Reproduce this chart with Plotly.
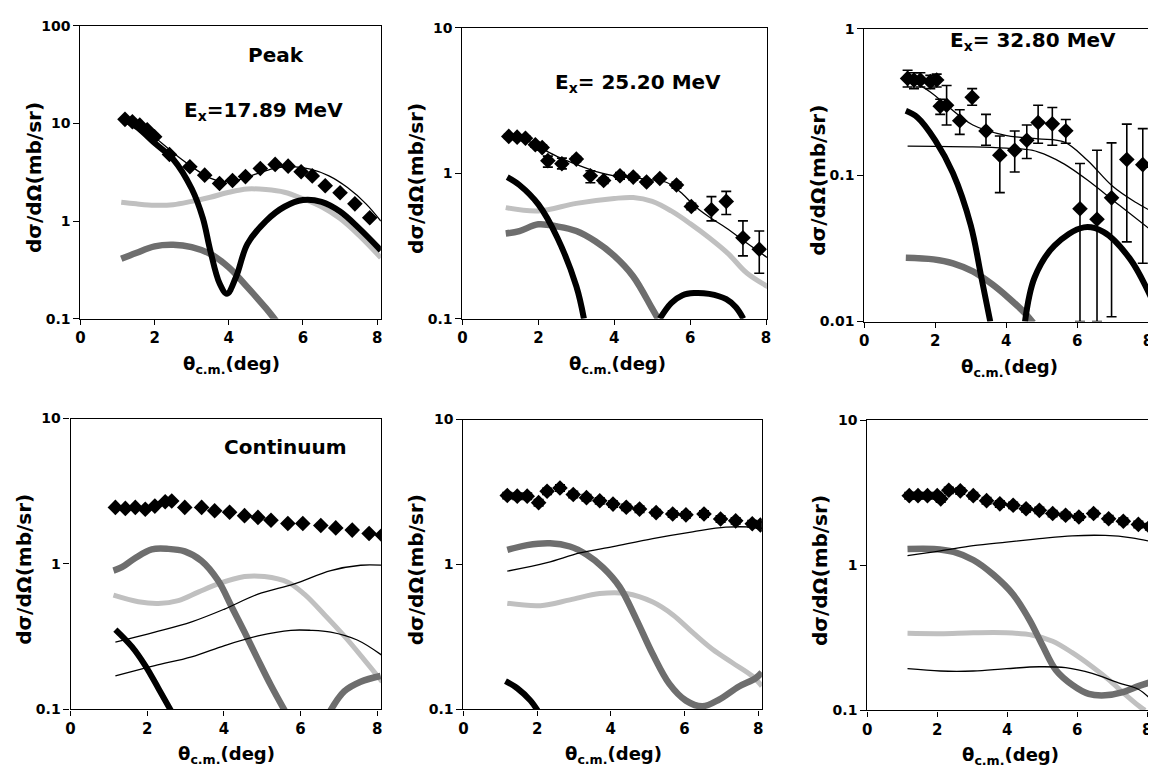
import plotly.graph_objects as go

W, H = 1156, 777

# ---------------- Panel 1 : Peak, Ex = 17.89 MeV ----------------
p1_dx = [1.2, 1.4, 1.6, 1.8, 2.0, 2.4, 2.95, 3.35, 3.75, 4.1, 4.45, 4.85, 5.25, 5.6, 5.95, 6.25, 6.6, 7.0, 7.4, 7.8]
p1_dy = [11.0, 10.4, 9.6, 8.6, 7.3, 4.8, 3.6, 2.95, 2.42, 2.6, 2.85, 3.45, 3.8, 3.65, 3.2, 2.9, 2.3, 1.95, 1.5, 1.08]
p1_tot_x = [1.1, 1.5, 2.0, 2.5, 3.0, 3.5, 3.8, 4.2, 4.7, 5.2, 5.7, 6.2, 6.7, 7.2, 7.7, 8.1]
p1_tot_y = [11.5, 9.8, 7.2, 5.0, 3.6, 2.75, 2.55, 2.6, 3.0, 3.45, 3.6, 3.4, 2.9, 2.2, 1.5, 1.0]
p1_blk_x = [1.1, 1.5, 2.0, 2.5, 3.0, 3.3, 3.5, 3.75, 3.95, 4.2, 4.5, 5.0, 5.5, 6.0, 6.5, 7.0, 7.5, 8.1]
p1_blk_y = [11.2, 9.3, 6.3, 4.3, 2.14, 1.07, 0.5, 0.23, 0.18, 0.27, 0.58, 1.0, 1.4, 1.64, 1.57, 1.25, 0.85, 0.5]
p1_lg_x = [1.1, 1.5, 2.0, 2.5, 3.0, 3.5, 4.0, 4.5, 5.0, 5.5, 6.0, 6.5, 7.0, 7.5, 8.1]
p1_lg_y = [1.56, 1.5, 1.45, 1.47, 1.59, 1.75, 1.97, 2.13, 2.1, 1.97, 1.69, 1.4, 1.06, 0.72, 0.42]
p1_dg_x = [1.1, 1.5, 2.0, 2.5, 3.0, 3.5, 4.0, 4.5, 5.0, 5.3]
p1_dg_y = [0.41, 0.47, 0.55, 0.57, 0.54, 0.46, 0.335, 0.21, 0.128, 0.092]

# ---------------- Panel 2 : Ex = 25.20 MeV ----------------
p2_dx = [1.22, 1.44, 1.66, 1.92, 2.1, 2.25, 2.62, 3.0, 3.37, 3.72, 4.15, 4.5, 4.85, 5.2, 5.64, 6.03, 6.56, 6.95, 7.39, 7.82]
p2_dy = [1.79, 1.77, 1.74, 1.57, 1.5, 1.22, 1.16, 1.25, 0.96, 0.89, 0.96, 0.94, 0.87, 0.92, 0.83, 0.59, 0.56, 0.64, 0.36, 0.30]
p2_dhi = [1.85, 1.83, 1.8, 1.63, 1.56, 1.31, 1.27, 1.3, 1.04, 0.93, 1.01, 0.98, 0.9, 0.95, 0.87, 0.62, 0.69, 0.75, 0.47, 0.40]
p2_dlo = [1.73, 1.71, 1.68, 1.51, 1.44, 1.1, 1.07, 1.2, 0.86, 0.85, 0.91, 0.9, 0.84, 0.89, 0.79, 0.56, 0.47, 0.52, 0.27, 0.205]
p2_tot_x = [1.2, 1.6, 2.0, 2.5, 3.0, 3.5, 4.0, 4.5, 5.0, 5.4, 5.8, 6.1, 6.5, 6.95, 7.5, 8.15]
p2_tot_y = [1.82, 1.72, 1.52, 1.3, 1.15, 1.03, 0.96, 0.93, 0.9, 0.86, 0.72, 0.6, 0.5, 0.42, 0.33, 0.25]
p2_blk1_x = [1.18, 1.5, 2.0, 2.5, 3.0, 3.2]
p2_blk1_y = [0.94, 0.83, 0.61, 0.36, 0.167, 0.1]
p2_blk2_x = [5.2, 5.5, 5.8, 6.1, 6.5, 6.95, 7.2, 7.4]
p2_blk2_y = [0.1, 0.128, 0.145, 0.15, 0.148, 0.136, 0.12, 0.1]
p2_lg_x = [1.14, 2.0, 3.0, 4.0, 4.5, 5.0, 5.5, 6.0, 6.5, 7.0, 7.5, 8.1]
p2_lg_y = [0.58, 0.55, 0.62, 0.67, 0.68, 0.64, 0.55, 0.45, 0.36, 0.28, 0.205, 0.163]
p2_dg_x = [1.14, 1.5, 2.0, 2.5, 3.0, 3.5, 4.0, 4.5, 5.0, 5.15]
p2_dg_y = [0.385, 0.40, 0.445, 0.43, 0.40, 0.34, 0.27, 0.195, 0.117, 0.1]

# ---------------- Panel 3 : Ex = 32.80 MeV ----------------
p3_dx = [1.22, 1.4, 1.58, 1.86, 2.04, 2.14, 2.32, 2.69, 3.04, 3.43, 3.82, 4.24, 4.58, 4.9, 5.3, 5.68, 6.08, 6.56, 6.97, 7.4, 7.85]
p3_dy = [0.458, 0.447, 0.447, 0.435, 0.447, 0.296, 0.30, 0.235, 0.34, 0.20, 0.137, 0.148, 0.173, 0.229, 0.224, 0.201, 0.059, 0.05, 0.07, 0.128, 0.118]
p3_dhi = [0.52, 0.5, 0.5, 0.48, 0.49, 0.33, 0.41, 0.28, 0.39, 0.26, 0.185, 0.2, 0.22, 0.30, 0.29, 0.24, 0.12, 0.148, 0.166, 0.223, 0.208]
p3_dlo = [0.40, 0.39, 0.40, 0.39, 0.40, 0.26, 0.22, 0.19, 0.30, 0.16, 0.076, 0.105, 0.13, 0.165, 0.16, 0.165, 0.01, 0.01, 0.0108, 0.035, 0.025]
p3_tot_x = [1.22, 1.86, 2.32, 3.06, 3.98, 4.9, 5.64, 6.28, 7.0, 7.66, 8.2]
p3_tot_y = [0.46, 0.37, 0.30, 0.22, 0.187, 0.177, 0.168, 0.127, 0.084, 0.065, 0.055]
p3_dir_x = [1.22, 2.0, 3.06, 4.0, 4.72, 5.2, 5.64, 6.28, 7.2, 8.2]
p3_dir_y = [0.158, 0.157, 0.156, 0.153, 0.148, 0.135, 0.119, 0.093, 0.062, 0.04]
p3_blk1_x = [1.17, 1.5, 2.0, 2.5, 3.0, 3.3, 3.55]
p3_blk1_y = [0.275, 0.248, 0.173, 0.103, 0.0455, 0.02, 0.01]
p3_blk2_x = [4.53, 4.8, 5.36, 6.19, 6.74, 7.48, 8.12]
p3_blk2_y = [0.01, 0.02, 0.033, 0.044, 0.041, 0.027, 0.014]
p3_dg_x = [1.17, 1.95, 2.5, 3.06, 3.6, 4.07, 4.53, 4.76]
p3_dg_y = [0.0273, 0.0266, 0.025, 0.022, 0.018, 0.0145, 0.0114, 0.0098]

# ---------------- Panel 4 : Continuum, Ex = 17.89 MeV ----------------
p4_dx = [1.17, 1.43, 1.69, 1.95, 2.2, 2.47, 2.64, 2.98, 3.42, 3.76, 4.15, 4.54, 4.89, 5.23, 5.67, 6.06, 6.53, 6.92, 7.35, 7.79, 8.13]
p4_dy = [2.45, 2.41, 2.45, 2.38, 2.5, 2.68, 2.71, 2.45, 2.45, 2.32, 2.27, 2.15, 2.09, 2.0, 1.9, 1.9, 1.84, 1.77, 1.71, 1.62, 1.58]
p4_blk_x = [1.17, 1.6, 1.95, 2.29, 2.7]
p4_blk_y = [0.354, 0.27, 0.2, 0.14, 0.09]
p4_dg1_x = [1.12, 1.34, 1.69, 2.12, 2.55, 2.98, 3.42, 3.85, 4.2, 4.54, 4.89, 5.23, 5.6]
p4_dg1_y = [0.9, 0.95, 1.1, 1.26, 1.27, 1.22, 1.05, 0.77, 0.51, 0.34, 0.22, 0.146, 0.097]
p4_dg2_x = [6.75, 7.14, 7.57, 8.09]
p4_dg2_y = [0.095, 0.133, 0.155, 0.17]
p4_lg_x = [1.12, 1.77, 2.29, 2.81, 3.33, 3.85, 4.54, 5.06, 5.67, 6.1, 6.62, 7.14, 7.66, 8.13]
p4_lg_y = [0.61, 0.55, 0.535, 0.56, 0.64, 0.73, 0.82, 0.82, 0.75, 0.62, 0.45, 0.32, 0.22, 0.155]
p4_t1_x = [1.17, 2.2, 3.16, 4.02, 4.89, 5.84, 6.79, 7.57, 8.13]
p4_t1_y = [0.29, 0.34, 0.40, 0.49, 0.62, 0.73, 0.9, 0.98, 0.98]
p4_t2_x = [1.17, 2.2, 3.16, 4.02, 4.89, 5.75, 6.27, 6.79, 7.48, 8.13]
p4_t2_y = [0.17, 0.2, 0.23, 0.275, 0.32, 0.35, 0.35, 0.34, 0.30, 0.235]

# ---------------- Panel 5 : Continuum, Ex = 25.20 MeV ----------------
p5_dx = [1.19, 1.46, 1.73, 2.04, 2.27, 2.62, 2.98, 3.34, 3.7, 4.06, 4.42, 4.78, 5.23, 5.68, 6.04, 6.53, 6.98, 7.39, 7.84, 8.06]
p5_dy = [2.99, 2.96, 2.96, 2.67, 3.2, 3.37, 3.04, 2.89, 2.75, 2.61, 2.48, 2.41, 2.28, 2.23, 2.2, 2.23, 2.06, 2.0, 1.91, 1.87]
p5_t_x = [1.19, 2.27, 3.16, 4.06, 5.14, 6.22, 7.12, 8.02]
p5_t_y = [0.90, 1.03, 1.2, 1.33, 1.51, 1.68, 1.81, 1.81]
p5_dg_x = [1.19, 1.73, 2.35, 2.89, 3.34, 3.79, 4.24, 4.69, 5.14, 5.59, 6.04, 6.49, 6.94, 7.48, 7.93, 8.1]
p5_dg_y = [1.26, 1.36, 1.4, 1.33, 1.17, 0.95, 0.70, 0.42, 0.24, 0.15, 0.115, 0.105, 0.117, 0.144, 0.164, 0.18]
p5_lg_x = [1.19, 2.09, 2.89, 3.7, 4.42, 5.14, 5.68, 6.22, 6.76, 7.3, 7.84, 8.1]
p5_lg_y = [0.54, 0.52, 0.57, 0.63, 0.63, 0.55, 0.45, 0.34, 0.26, 0.21, 0.17, 0.145]
p5_blk_x = [1.14, 1.46, 1.82, 2.05]
p5_blk_y = [0.157, 0.14, 0.115, 0.095]

# ---------------- Panel 6 : Continuum, Ex = 32.80 MeV ----------------
p6_dx = [1.2, 1.45, 1.72, 2.0, 2.1, 2.33, 2.66, 3.03, 3.41, 3.79, 4.17, 4.54, 4.92, 5.3, 5.67, 6.05, 6.47, 6.9, 7.32, 7.75, 8.08]
p6_dy = [3.03, 3.03, 3.03, 3.03, 2.88, 3.3, 3.27, 3.03, 2.8, 2.66, 2.6, 2.46, 2.4, 2.28, 2.22, 2.16, 2.28, 2.1, 2.02, 1.92, 1.85]
p6_t1_x = [1.15, 2.09, 3.03, 3.98, 4.92, 5.86, 6.8, 7.56, 8.17]
p6_t1_y = [1.17, 1.26, 1.37, 1.45, 1.53, 1.6, 1.61, 1.55, 1.45]
p6_t2_x = [1.15, 2.09, 3.03, 3.98, 4.92, 5.67, 6.43, 7.18, 7.75, 8.17]
p6_t2_y = [0.194, 0.187, 0.187, 0.194, 0.2, 0.197, 0.18, 0.155, 0.14, 0.115]
p6_dg_x = [1.15, 1.9, 2.47, 3.03, 3.6, 4.17, 4.64, 5.01, 5.39, 5.86, 6.33, 6.8, 7.28, 7.75, 8.12]
p6_dg_y = [1.3, 1.3, 1.24, 1.09, 0.865, 0.63, 0.42, 0.28, 0.19, 0.15, 0.13, 0.127, 0.133, 0.147, 0.157]
p6_lg_x = [1.15, 2.09, 3.03, 3.98, 4.73, 5.3, 5.86, 6.43, 6.9, 7.37, 7.75, 7.94]
p6_lg_y = [0.34, 0.338, 0.343, 0.343, 0.33, 0.30, 0.25, 0.20, 0.163, 0.129, 0.108, 0.1]

# tick labels
x_ticks = [0, 2, 4, 6, 8]
y_ticks_p1 = [0.1, 1, 10, 100]
y_ticks_p2 = [0.1, 1, 10]
y_ticks_p3 = [0.01, 0.1, 1]
y_ticks_bot = [0.1, 1, 10]

# ---------------- styling ----------------
FONT = "DejaVu Sans, Liberation Sans, Arial, sans-serif"
BLACK_THICK = dict(color="black", width=6, shape="spline")
THIN = dict(color="black", width=1.3, shape="spline")
LIGHT = dict(color="rgb(192,192,192)", width=5, shape="spline")
DARK = dict(color="rgb(110,110,110)", width=6.5, shape="spline")
MARK = dict(symbol="diamond", size=12, color="black")

# panel geometry in pixels: x of 0, x of 8, top y, bottom y, log range, x max
panels = [
    dict(x0=68, x8=367, yt=10, yb=309, yr=[-1, 2], yt_vals=y_ticks_p1, xm=8.1),
    dict(x0=453, x8=759, yt=12, yb=309, yr=[-1, 1], yt_vals=y_ticks_p2, xm=8.02),
    dict(x0=858, x8=1144, yt=13, yb=312, yr=[-2, 0], yt_vals=y_ticks_p3, xm=8.05),
    dict(x0=58, x8=367, yt=411, yb=708, yr=[-1, 1], yt_vals=y_ticks_bot, xm=8.1),
    dict(x0=454, x8=751, yt=412, yb=708, yr=[-1, 1], yt_vals=y_ticks_bot, xm=8.1),
    dict(x0=861, x8=1143, yt=413, yb=709, yr=[-1, 1], yt_vals=y_ticks_bot, xm=8.05),
]

fig = go.Figure()


def ax(i):
    return ("x" if i == 0 else f"x{i+1}"), ("y" if i == 0 else f"y{i+1}")


def line(i, xs, ys, style):
    xa, ya = ax(i)
    fig.add_trace(go.Scatter(x=xs, y=ys, mode="lines", line=style, xaxis=xa, yaxis=ya,
                             showlegend=False, hoverinfo="skip"))


def data(i, xs, ys, hi=None, lo=None):
    xa, ya = ax(i)
    err = None
    if hi is not None:
        err = dict(type="data", symmetric=False,
                   array=[h - y for h, y in zip(hi, ys)],
                   arrayminus=[y - l for l, y in zip(lo, ys)],
                   color="black", thickness=1.6, width=5)
    fig.add_trace(go.Scatter(x=xs, y=ys, mode="markers", marker=MARK, error_y=err,
                             xaxis=xa, yaxis=ya, showlegend=False, cliponaxis=True))


# panel 1
line(0, p1_lg_x, p1_lg_y, LIGHT)
line(0, p1_dg_x, p1_dg_y, DARK)
line(0, p1_blk_x, p1_blk_y, BLACK_THICK)
line(0, p1_tot_x, p1_tot_y, THIN)
data(0, p1_dx, p1_dy)
# panel 2
line(1, p2_lg_x, p2_lg_y, LIGHT)
line(1, p2_dg_x, p2_dg_y, DARK)
line(1, p2_blk1_x, p2_blk1_y, BLACK_THICK)
line(1, p2_blk2_x, p2_blk2_y, BLACK_THICK)
line(1, p2_tot_x, p2_tot_y, THIN)
data(1, p2_dx, p2_dy, p2_dhi, p2_dlo)
# panel 3
line(2, p3_dg_x, p3_dg_y, DARK)
line(2, p3_blk1_x, p3_blk1_y, BLACK_THICK)
line(2, p3_blk2_x, p3_blk2_y, BLACK_THICK)
line(2, p3_tot_x, p3_tot_y, THIN)
line(2, p3_dir_x, p3_dir_y, THIN)
data(2, p3_dx, p3_dy, p3_dhi, p3_dlo)
# panel 4
line(3, p4_lg_x, p4_lg_y, LIGHT)
line(3, p4_dg1_x, p4_dg1_y, DARK)
line(3, p4_dg2_x, p4_dg2_y, DARK)
line(3, p4_blk_x, p4_blk_y, BLACK_THICK)
line(3, p4_t1_x, p4_t1_y, THIN)
line(3, p4_t2_x, p4_t2_y, THIN)
data(3, p4_dx, p4_dy)
# panel 5
line(4, p5_lg_x, p5_lg_y, LIGHT)
line(4, p5_dg_x, p5_dg_y, DARK)
line(4, p5_blk_x, p5_blk_y, BLACK_THICK)
line(4, p5_t_x, p5_t_y, THIN)
data(4, p5_dx, p5_dy, [v * 1.05 for v in p5_dy], [v * 0.95 for v in p5_dy])
# panel 6
line(5, p6_lg_x, p6_lg_y, LIGHT)
line(5, p6_dg_x, p6_dg_y, DARK)
line(5, p6_t1_x, p6_t1_y, THIN)
line(5, p6_t2_x, p6_t2_y, THIN)
data(5, p6_dx, p6_dy, [v * 1.05 for v in p6_dy], [v * 0.95 for v in p6_dy])

layout = dict(width=W, height=H, margin=dict(l=0, r=0, t=0, b=0),
              paper_bgcolor="white", plot_bgcolor="white", showlegend=False,
              font=dict(family=FONT, color="black"))
annotations = []
for i, p in enumerate(panels):
    key = "" if i == 0 else str(i + 1)
    xr = p["x0"] + (p["x8"] - p["x0"]) * p["xm"] / 8.0
    layout["xaxis" + key] = dict(
        domain=[p["x0"] / W, xr / W], range=[0, p["xm"]], anchor="y" + key,
        tickvals=x_ticks, ticktext=[str(v) for v in x_ticks],
        ticks="outside", ticklen=5, tickwidth=1, tickcolor="black",
        showline=True, linecolor="black", linewidth=1.2, mirror=True,
        showgrid=False, zeroline=False, ticklabeloverflow="allow",
        tickfont=dict(family=FONT, size=15, weight="bold", color="black"))
    layout["yaxis" + key] = dict(
        domain=[1 - p["yb"] / H, 1 - p["yt"] / H], type="log", range=p["yr"],
        anchor="x" + key,
        tickvals=p["yt_vals"], ticktext=[("%g" % v) for v in p["yt_vals"]],
        ticks="outside", ticklen=6, tickwidth=1, tickcolor="black",
        showline=True, linecolor="black", linewidth=1.2, mirror=True,
        showgrid=False, zeroline=False,
        tickfont=dict(family=FONT, size=14, weight="bold", color="black"))
    # axis titles
    annotations.append(dict(text="<b>dσ/dΩ(mb/sr)</b>", textangle=-90, xref="paper", yref="paper",
                            x=(p["x0"] - 47) / W, y=1 - ((p["yt"] + p["yb"]) / 2 + 5) / H,
                            xanchor="center", yanchor="middle", showarrow=False,
                            font=dict(family=FONT, size=20, color="black")))
    annotations.append(dict(text="<b>θ<sub>c.m.</sub>(deg)</b>", xref="paper", yref="paper",
                            x=(p["x0"] + (p["x8"] - p["x0"]) * 0.5 + 3) / W, y=1 - (p["yb"] + 47) / H,
                            xanchor="center", yanchor="middle", showarrow=False,
                            font=dict(family=FONT, size=18, color="black")))

labels = [
    ("<b>Peak</b>", 265, 40),
    ("<b>E<sub>x</sub>=17.89 MeV</b>", 252, 97),
    ("<b>E<sub>x</sub>= 25.20 MeV</b>", 630, 68),
    ("<b>E<sub>x</sub>= 32.80 MeV</b>", 1028, 26),
    ("<b>Continuum</b>", 275, 440),
]
for t, px, py in labels:
    annotations.append(dict(text=t, xref="paper", yref="paper", x=px / W, y=1 - py / H,
                            xanchor="center", yanchor="middle", showarrow=False,
                            font=dict(family=FONT, size=20, color="black")))
layout["annotations"] = annotations
fig.update_layout(**layout)
fig.write_html("out.html")
